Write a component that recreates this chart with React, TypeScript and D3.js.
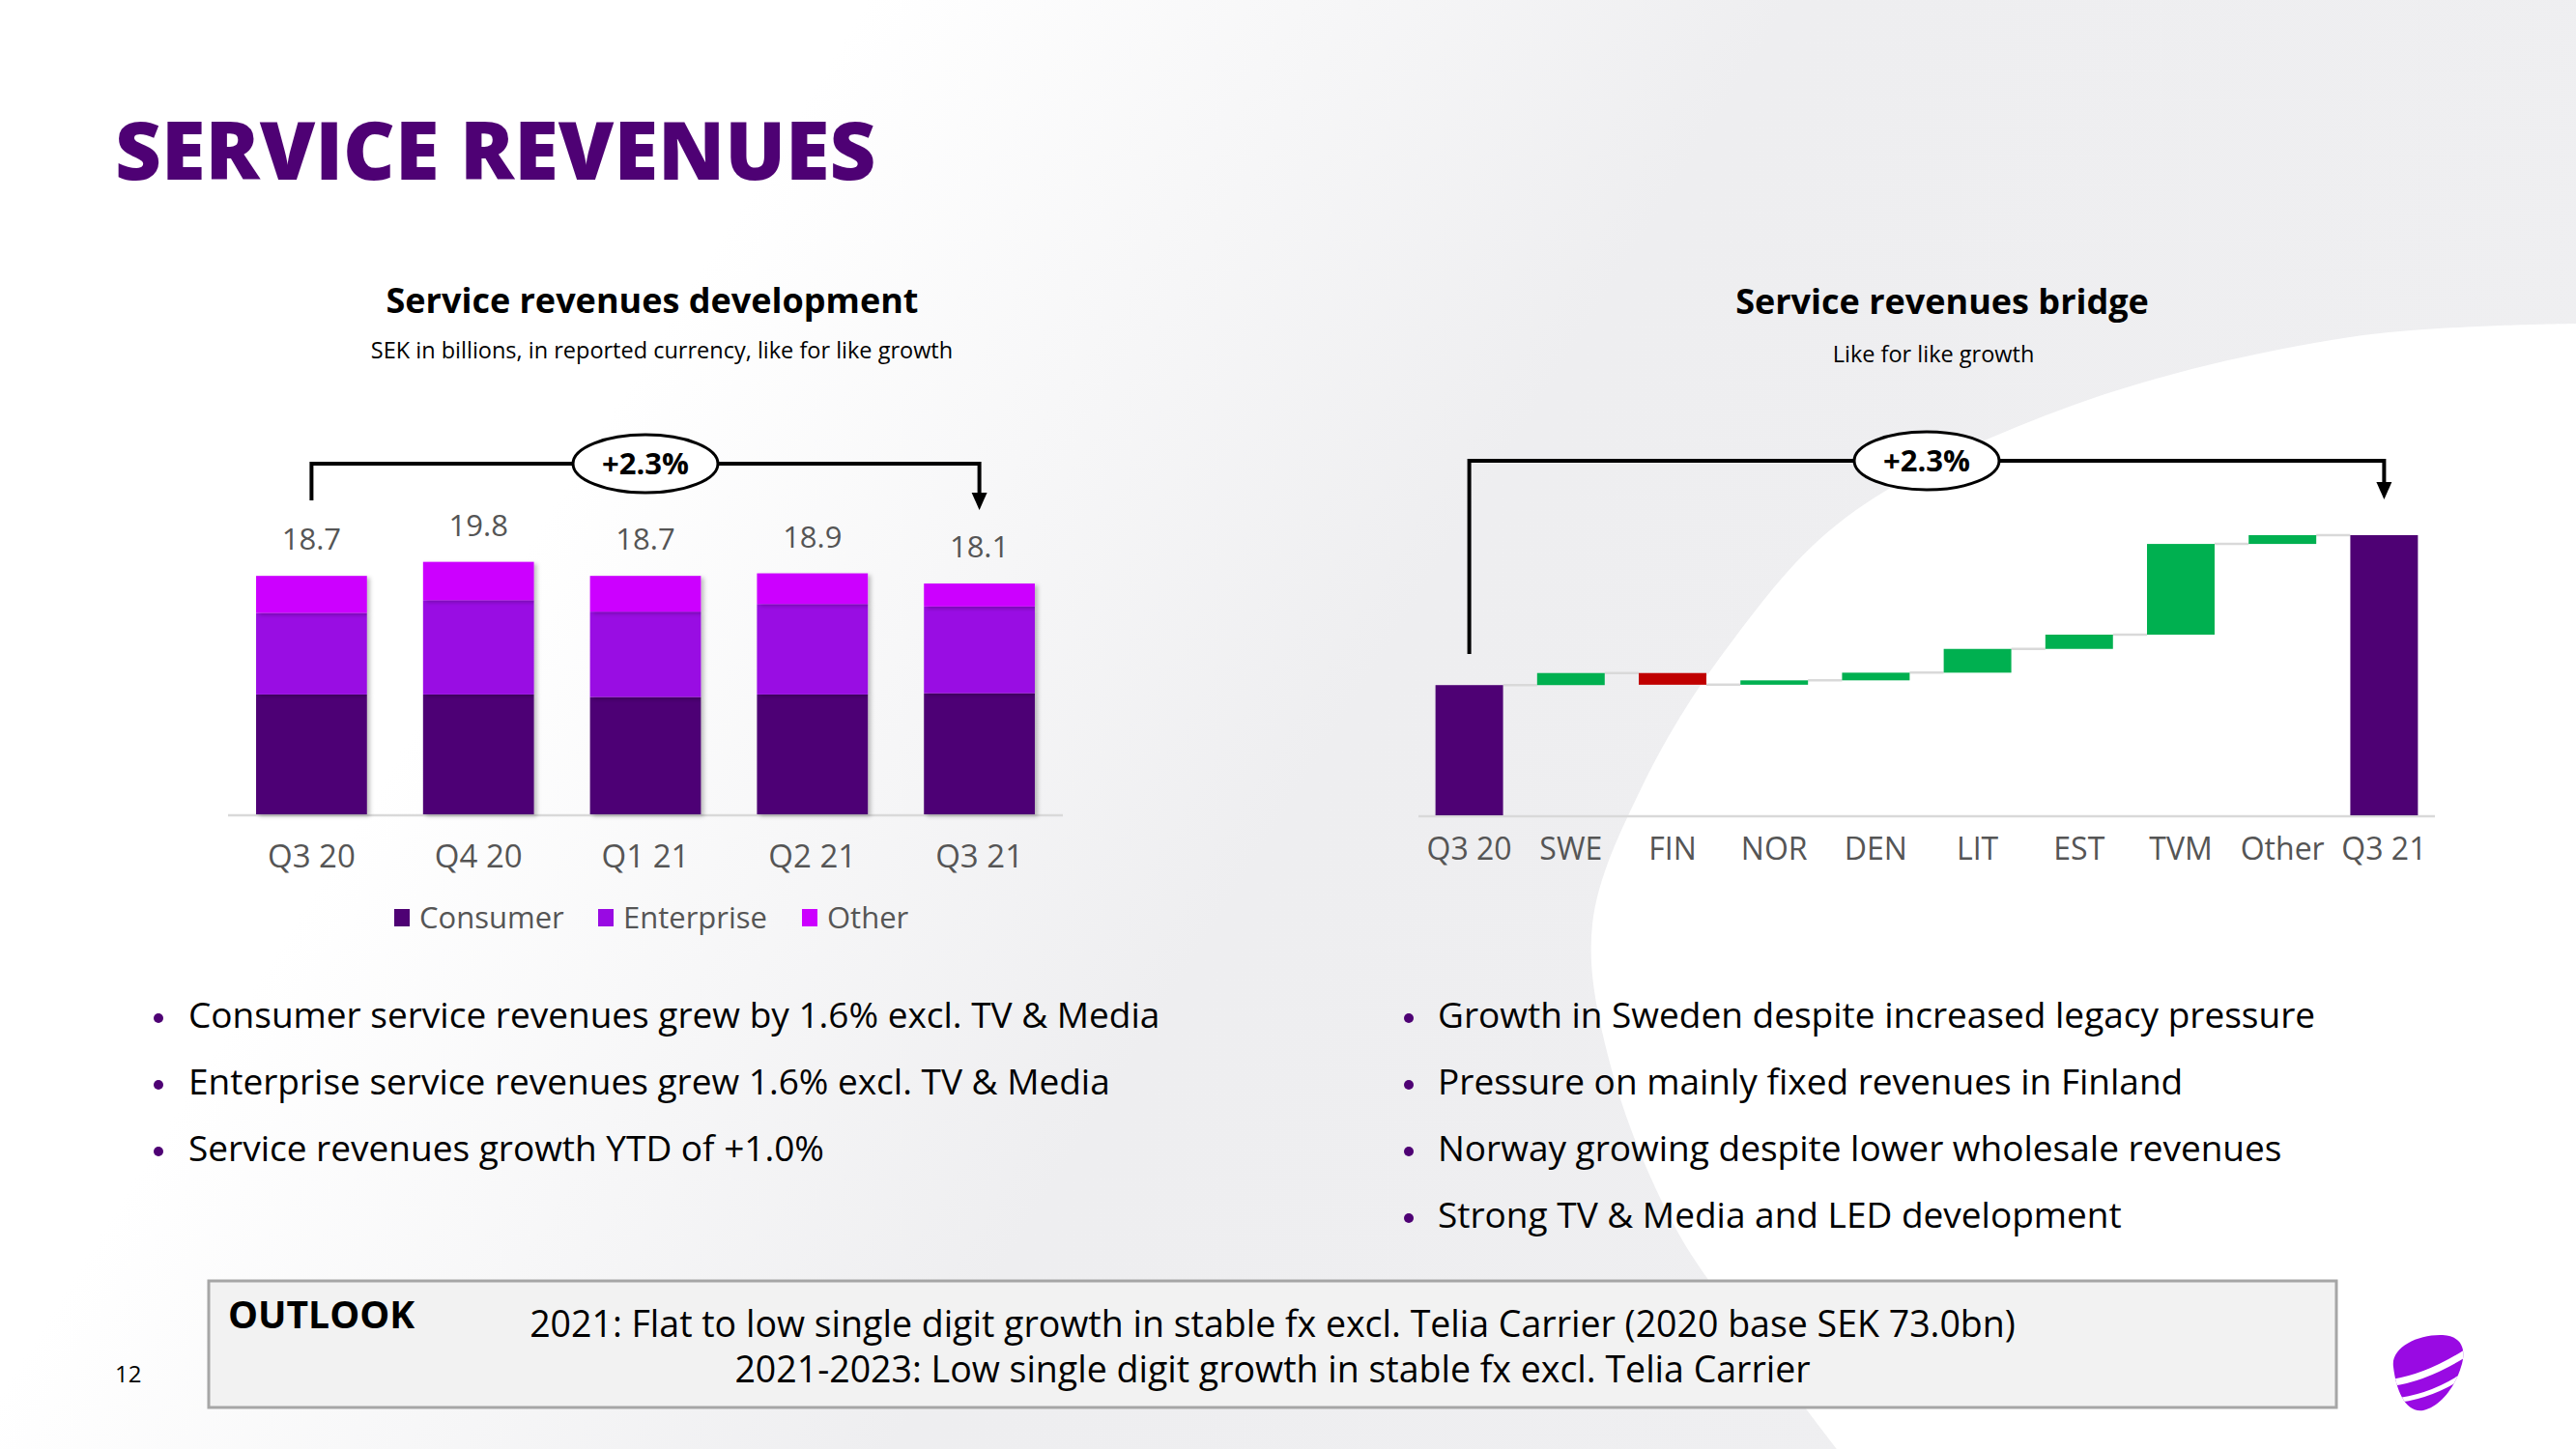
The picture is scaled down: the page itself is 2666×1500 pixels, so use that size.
import React from "react";
import * as d3 from "d3";

// ---------- DATA ----------
const quarters = ["Q3 20", "Q4 20", "Q1 21", "Q2 21", "Q3 21"];
const totals = [18.7, 19.8, 18.7, 18.9, 18.1];
const consumer = [9.4, 9.4, 9.2, 9.4, 9.5];
const enterprise = [6.4, 7.4, 6.7, 7.1, 6.8];
const other = [2.9, 3.0, 2.8, 2.4, 1.8];
const segmentNames = ["Consumer", "Enterprise", "Other"];
const growthLabel = "+2.3%";

const bridgeCats = ["Q3 20", "SWE", "FIN", "NOR", "DEN", "LIT", "EST", "TVM", "Other", "Q3 21"];
const bridgeStart = 17690; // SEK m, like for like
const bridgeDeltas = [33, -32, 12, 21, 65, 39, 248, 24];
const bridgeEnd = 18100;
const bridgeAxisMin = 17334;

const leftBullets = [
  "Consumer service revenues grew by 1.6% excl. TV & Media",
  "Enterprise service revenues grew 1.6% excl. TV & Media",
  "Service revenues growth YTD of +1.0%",
];
const rightBullets = [
  "Growth in Sweden despite increased legacy pressure",
  "Pressure on mainly fixed revenues in Finland",
  "Norway growing despite lower wholesale revenues",
  "Strong TV & Media and LED development",
];
const outlookLines = [
  "2021: Flat to low single digit growth in stable fx excl. Telia Carrier (2020 base SEK 73.0bn)",
  "2021-2023: Low single digit growth in stable fx excl. Telia Carrier",
];

// ---------- STYLE ----------
const FONT = "'Open Sans', Lato, sans-serif";
const DARK = "#4E0174";
const segColors = ["#4E0174", "#990AE3", "#CC00FF"];
const GREEN = "#00B050";
const RED = "#C00000";
const GREY_TXT = "#555555";
const AXIS = "#d9d9d9";

const W = 2666;
const H = 1500;

export default function App() {
  // left chart scales
  const xL = d3.scaleBand<string>().domain(quarters).range([236, 1100]).paddingInner(0.336).paddingOuter(0.168);
  const yL = d3.scaleLinear().domain([0, 20]).range([843, 579]);
  const rows = quarters.map((q, i) => ({ q, Consumer: consumer[i], Enterprise: enterprise[i], Other: other[i] }));
  const stacked = d3.stack<any>().keys(segmentNames)(rows);
  const bwL = xL.bandwidth();

  // right chart scales
  const xR = d3.scaleBand<string>().domain(bridgeCats).range([1468, 2520]).paddingInner(0.335).paddingOuter(0.1675);
  const yR = d3.scaleLinear().domain([bridgeAxisMin, bridgeEnd]).range([844, 554]);
  const bwR = xR.bandwidth();
  type Step = { cat: string; y0: number; y1: number; color: string };
  const steps: Step[] = [];
  steps.push({ cat: bridgeCats[0], y0: bridgeAxisMin, y1: bridgeStart, color: DARK });
  let run = bridgeStart;
  bridgeDeltas.forEach((d, i) => {
    steps.push({ cat: bridgeCats[i + 1], y0: run, y1: run + d, color: d >= 0 ? GREEN : RED });
    run += d;
  });
  steps.push({ cat: bridgeCats[bridgeCats.length - 1], y0: bridgeAxisMin, y1: bridgeEnd, color: DARK });
  const levels = [bridgeStart];
  { let r = bridgeStart; bridgeDeltas.forEach((d) => { r += d; levels.push(r); }); }

  // brackets
  const lx1 = xL(quarters[0])! + bwL / 2;
  const lx2 = xL(quarters[quarters.length - 1])! + bwL / 2;
  const rx1 = xR(bridgeCats[0])! + bwR / 2;
  const rx2 = xR(bridgeCats[bridgeCats.length - 1])! + bwR / 2;

  const bgCurve = d3.line().curve(d3.curveCatmullRom.alpha(0.5))([
    [2666, 335], [2432, 349], [2144, 420], [1910, 536], [1788, 670], [1700, 813],
    [1648, 957], [1666, 1100], [1735, 1273], [1823, 1397], [1901, 1500],
  ] as [number, number][]);

  const Bracket = ({ x1, x2, yTop, yStart, yTip, cx }: any) => (
    <g>
      <path d={`M${x1},${yStart} L${x1},${yTop} L${x2},${yTop} L${x2},${yTip - 16}`} fill="none" stroke="#000" strokeWidth={4} />
      <path d={`M${x2 - 8},${yTip - 18} L${x2 + 8},${yTip - 18} L${x2},${yTip} Z`} fill="#000" />
      <ellipse cx={cx} cy={yTop} rx={75} ry={30} fill="#fff" stroke="#000" strokeWidth={3} />
      <text x={cx} y={yTop} dy="0.36em" textAnchor="middle" fontSize={31} fontWeight={700} fill="#000">{growthLabel}</text>
    </g>
  );

  return (
    <div style={{ position: "absolute", left: 0, top: 0, width: W, height: H, overflow: "hidden" }}>
      <svg width={W} height={H} style={{ display: "block", fontFamily: FONT }}>
        <defs>
          <linearGradient id="bg" x1="0" y1="0" x2="1" y2="0.35">
            <stop offset="0.3" stopColor="#ffffff" />
            <stop offset="0.62" stopColor="#eeeef0" />
            <stop offset="1" stopColor="#efeff1" />
          </linearGradient>
          <filter id="shadow" x="-10%" y="-10%" width="130%" height="130%">
            <feDropShadow dx="3" dy="2" stdDeviation="2" floodColor="#000" floodOpacity="0.25" />
          </filter>
          <clipPath id="logoClip">
            <path d="M2477,1415 C2474,1395 2502,1381 2528,1382 C2548,1383 2553,1397 2547,1415 C2541,1435 2526,1456 2508,1460 C2490,1463 2480,1440 2477,1415 Z" />
          </clipPath>
        </defs>
        <rect x={0} y={0} width={W} height={H} fill="url(#bg)" />
        <path d={`${bgCurve} L2666,1500 Z`} fill="#ffffff" />

        {/* Title */}
        <text x={119} y={186} fontSize={83} fontWeight={800} fill={DARK}>SERVICE REVENUES</text>

        {/* Left chart */}
        <text x={675} y={311} dy="0.36em" textAnchor="middle" fontSize={36} fontWeight={700} fill="#000">Service revenues development</text>
        <text x={685} y={363} dy="0.36em" textAnchor="middle" fontSize={23.5} fill="#000">SEK in billions, in reported currency, like for like growth</text>
        <line x1={xL.range()[0]} x2={xL.range()[1]} y1={844} y2={844} stroke={AXIS} strokeWidth={2.5} />
        {stacked.map((layer, li) => (
          <g key={li}>
            {layer.map((d, i) => (
              <rect key={i} x={xL(quarters[i])} y={yL(d[1])} width={bwL} height={yL(d[0]) - yL(d[1])} fill={segColors[li]} filter="url(#shadow)" />
            ))}
          </g>
        ))}
        {quarters.map((q, i) => (
          <g key={q}>
            <text x={xL(q)! + bwL / 2} y={yL(totals[i]) - 38} dy="0.36em" textAnchor="middle" fontSize={31} fill={GREY_TXT}>{totals[i].toFixed(1)}</text>
            <text x={xL(q)! + bwL / 2} y={886} dy="0.36em" textAnchor="middle" fontSize={33} fill={GREY_TXT}>{q}</text>
          </g>
        ))}
        {segmentNames.map((s, i) => (
          <g key={s} transform={`translate(${408 + i * 211},950)`}>
            <rect x={0} y={-9} width={16} height={18} fill={segColors[i]} />
            <text x={26} y={0} dy="0.36em" fontSize={31} fill={GREY_TXT}>{s}</text>
          </g>
        ))}
        <Bracket x1={lx1} x2={lx2} yTop={480} yStart={518} yTip={528} cx={(lx1 + lx2) / 2} />

        {/* Right chart */}
        <text x={2010} y={312} dy="0.36em" textAnchor="middle" fontSize={36} fontWeight={700} fill="#000">Service revenues bridge</text>
        <text x={2001} y={367} dy="0.36em" textAnchor="middle" fontSize={23.5} fill="#000">Like for like growth</text>
        <line x1={xR.range()[0]} x2={xR.range()[1]} y1={845} y2={845} stroke={AXIS} strokeWidth={2.5} />
        {levels.map((lv, i) => (
          <line key={i} x1={xR(bridgeCats[i])! + bwR} x2={xR(bridgeCats[i + 1])!} y1={yR(lv)} y2={yR(lv)} stroke={AXIS} strokeWidth={2.5} />
        ))}
        {steps.map((s) => (
          <rect key={s.cat} x={xR(s.cat)} y={Math.min(yR(s.y0), yR(s.y1))} width={bwR} height={Math.abs(yR(s.y0) - yR(s.y1))} fill={s.color} />
        ))}
        {bridgeCats.map((c) => (
          <text key={c} x={xR(c)! + bwR / 2} y={878} dy="0.36em" textAnchor="middle" fontSize={32} fill={GREY_TXT}>{c}</text>
        ))}
        <Bracket x1={rx1} x2={rx2} yTop={477} yStart={677} yTip={517} cx={(rx1 + rx2) / 2} />

        {/* Bullets */}
        {leftBullets.map((b, i) => (
          <g key={b} transform={`translate(0,${1051 + i * 69})`}>
            <circle cx={164} cy={3} r={5} fill={DARK} />
            <text x={195} y={0} dy="0.36em" fontSize={37} fill="#000">{b}</text>
          </g>
        ))}
        {rightBullets.map((b, i) => (
          <g key={b} transform={`translate(0,${1051 + i * 69})`}>
            <circle cx={1458} cy={3} r={5} fill={DARK} />
            <text x={1488} y={0} dy="0.36em" fontSize={37} fill="#000">{b}</text>
          </g>
        ))}

        {/* Outlook box */}
        <rect x={216} y={1326} width={2202} height={131} fill="#f2f2f2" stroke="#a6a6a6" strokeWidth={3} />
        <text x={236} y={1361} dy="0.36em" fontSize={39} fontWeight={700} fill="#000">OUTLOOK</text>
        {outlookLines.map((l, i) => (
          <text key={l} x={1317} y={1370 + i * 47} dy="0.36em" textAnchor="middle" fontSize={37.5} fill="#000">{l}</text>
        ))}

        {/* Page number */}
        <text x={119} y={1422} dy="0.36em" fontSize={24} fill="#000">12</text>

        {/* Logo */}
        <g clipPath="url(#logoClip)">
          <rect x={2470} y={1378} width={90} height={90} fill="#990AE3" />
          <path d="M2470,1432 Q2510,1428 2556,1398" fill="none" stroke="#fff" strokeWidth={7} />
          <path d="M2476,1450 Q2515,1447 2552,1422" fill="none" stroke="#fff" strokeWidth={5} />
        </g>
      </svg>
    </div>
  );
}
